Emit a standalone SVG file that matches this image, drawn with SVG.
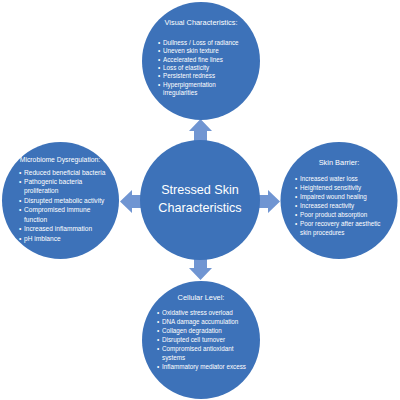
<svg xmlns="http://www.w3.org/2000/svg" width="400" height="400" viewBox="0 0 400 400">
<style>
.c{fill:#3d72b9}
.a{fill:#7095d2}
text{font-family:"Liberation Sans",Arial,sans-serif;fill:#fff}
.t{font-size:7.4px;text-anchor:middle}
.b{font-size:6.3px}
.m{font-size:12.6px;text-anchor:middle}
</style>
<rect width="400" height="400" fill="#fff"/>
<g id="connectors">
<polygon class="a" points="194,143 194,131 189,131 200.5,119 212,131 207,131 207,143"/>
<polygon class="a" points="256,195 268,195 268,190 280,201.5 268,213 268,208 256,208"/>
<polygon class="a" points="144,195 132,195 132,190 120,201.5 132,213 132,208 144,208"/>
<polygon class="a" points="194,256 194,268 189,268 200.5,280 212,268 207,268 207,256"/>
</g>
<g id="center">
<circle class="c" cx="200" cy="200" r="60"/>
<text class="m" x="200" y="194">Stressed Skin</text>
<text class="m" x="200" y="212">Characteristics</text>
</g>
<g id="visual">
<circle class="c" cx="201" cy="61" r="59"/>
<text class="t" x="201" y="25">Visual Characteristics:</text>
<text class="b"><tspan x="158" y="45">•</tspan><tspan x="163">Dullness / Loss of radiance</tspan><tspan x="158" y="53">•</tspan><tspan x="163">Uneven skin texture</tspan><tspan x="158" y="61.5">•</tspan><tspan x="163">Accelerated fine lines</tspan><tspan x="158" y="70">•</tspan><tspan x="163">Loss of elasticity</tspan><tspan x="158" y="78">•</tspan><tspan x="163">Persistent redness</tspan><tspan x="158" y="86.5">•</tspan><tspan x="163">Hyperpigmentation</tspan><tspan x="163" y="95">irregularities</tspan></text>
</g>
<g id="microbiome">
<circle class="c" cx="60.5" cy="200.5" r="58.5"/>
<text class="t" x="60" y="162" style="font-size:6.8px">Microbiome Dysregulation:</text>
<text class="b" style="font-size:6.6px"><tspan x="19" y="174.5">•</tspan><tspan x="24">Reduced beneficial bacteria</tspan><tspan x="19" y="183.5">•</tspan><tspan x="24">Pathogenic bacteria</tspan><tspan x="24" y="193">proliferation</tspan><tspan x="19" y="202.5">•</tspan><tspan x="24">Disrupted metabolic activity</tspan><tspan x="19" y="212">•</tspan><tspan x="24">Compromised immune</tspan><tspan x="24" y="221.5">function</tspan><tspan x="19" y="231">•</tspan><tspan x="24">Increased inflammation</tspan><tspan x="19" y="240.5">•</tspan><tspan x="24">pH imblance</tspan></text>
</g>
<g id="barrier">
<circle class="c" cx="339" cy="200.5" r="58.5"/>
<text class="t" x="339" y="165">Skin Barrier:</text>
<text class="b"><tspan x="295" y="181">•</tspan><tspan x="300">Increased water loss</tspan><tspan x="295" y="190">•</tspan><tspan x="300">Heightened sensitivity</tspan><tspan x="295" y="199">•</tspan><tspan x="300">Impaired wound healing</tspan><tspan x="295" y="208">•</tspan><tspan x="300">Increased reactivity</tspan><tspan x="295" y="217">•</tspan><tspan x="300">Poor product absorption</tspan><tspan x="295" y="226">•</tspan><tspan x="300">Poor recovery after aesthetic</tspan><tspan x="300" y="235">skin procedures</tspan></text>
</g>
<g id="cellular">
<circle class="c" cx="201" cy="340" r="59"/>
<text class="t" x="201" y="300">Cellular Level:</text>
<text class="b"><tspan x="157" y="315">•</tspan><tspan x="162">Oxidative stress overload</tspan><tspan x="157" y="324">•</tspan><tspan x="162">DNA damage accumulation</tspan><tspan x="157" y="333">•</tspan><tspan x="162">Collagen degradation</tspan><tspan x="157" y="342">•</tspan><tspan x="162">Disrupted cell turnover</tspan><tspan x="157" y="351">•</tspan><tspan x="162">Compromised antioxidant</tspan><tspan x="162" y="359.5">systems</tspan><tspan x="157" y="369">•</tspan><tspan x="162">Inflammatory mediator excess</tspan></text>
</g>
</svg>
